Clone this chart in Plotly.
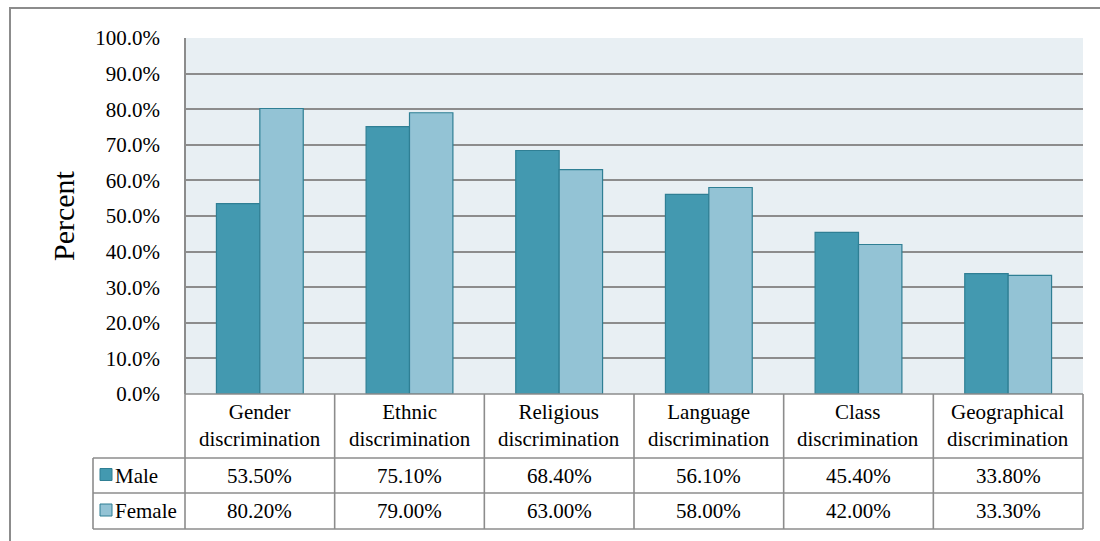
import plotly.graph_objects as go

categories = ["Gender<br>discrimination", "Ethnic<br>discrimination", "Religious<br>discrimination",
              "Language<br>discrimination", "Class<br>discrimination", "Geographical<br>discrimination"]
male = [53.5, 75.1, 68.4, 56.1, 45.4, 33.8]
female = [80.2, 79.0, 63.0, 58.0, 42.0, 33.3]
series_names = ["Male", "Female"]
y_ticks = [0, 10, 20, 30, 40, 50, 60, 70, 80, 90, 100]

W, H = 1100, 541
PX0, PX1 = 185, 1083
PY0, PY1 = 38, 394
TBL_HDR_BOT = 458
ROW_BOT = [493, 529]
TBL_LEFT = 93

MALE_C = "#4399B0"
FEMALE_C = "#93C3D5"
EDGE_C = "#2F7F94"
GRID_C = "#8C8C8C"
FONT = "Liberation Serif, Times New Roman, serif"

def px(x):
    return x / W

def py(y):
    return 1 - y / H

fig = go.Figure()
xs = list(range(len(categories)))
fig.add_trace(go.Bar(x=xs, y=male, name=series_names[0], marker=dict(color=MALE_C, line=dict(color=EDGE_C, width=1.2))))
fig.add_trace(go.Bar(x=xs, y=female, name=series_names[1], marker=dict(color=FEMALE_C, line=dict(color=EDGE_C, width=1.2))))

shapes = []
annotations = []

# outer frame
shapes.append(dict(type="rect", xref="paper", yref="paper", x0=px(10), x1=px(1110), y0=py(560), y1=py(8),
                   line=dict(color="#8C8C8C", width=2), fillcolor="rgba(0,0,0,0)", layer="below"))
# plot area left border
shapes.append(dict(type="line", xref="paper", yref="paper", x0=px(PX0), x1=px(PX0), y0=py(PY1), y1=py(PY0),
                   line=dict(color=GRID_C, width=2)))

n = len(categories)
colw = (PX1 - PX0) / n
line_style = dict(color=GRID_C, width=1.6)
shapes.append(dict(type="line", xref="paper", yref="paper", x0=px(PX0), x1=px(PX1), y0=py(PY1), y1=py(PY1), line=line_style))
for yy in [TBL_HDR_BOT] + ROW_BOT:
    shapes.append(dict(type="line", xref="paper", yref="paper", x0=px(TBL_LEFT), x1=px(PX1), y0=py(yy), y1=py(yy), line=line_style))
shapes.append(dict(type="line", xref="paper", yref="paper", x0=px(TBL_LEFT), x1=px(TBL_LEFT), y0=py(TBL_HDR_BOT), y1=py(ROW_BOT[-1]), line=line_style))
for i in range(n + 1):
    xx = PX0 + i * colw
    shapes.append(dict(type="line", xref="paper", yref="paper", x0=px(xx), x1=px(xx), y0=py(PY1), y1=py(ROW_BOT[-1]), line=line_style))

font = dict(family=FONT, size=21, color="#000000")
for i, c in enumerate(categories):
    annotations.append(dict(xref="paper", yref="paper", x=px(PX0 + (i + 0.5) * colw), y=py((PY1 + TBL_HDR_BOT) / 2 - 0.5),
                            text=c, showarrow=False, font=font, xanchor="center", yanchor="middle"))
row_tops = [TBL_HDR_BOT, ROW_BOT[0]]
for r, (vals, name, colr) in enumerate([(male, series_names[0], MALE_C), (female, series_names[1], FEMALE_C)]):
    yc = (row_tops[r] + ROW_BOT[r]) / 2
    for i, v in enumerate(vals):
        annotations.append(dict(xref="paper", yref="paper", x=px(PX0 + (i + 0.5) * colw), y=py(yc),
                                text=f"{v:.2f}%", showarrow=False, font=font, xanchor="center", yanchor="middle"))
    shapes.append(dict(type="rect", xref="paper", yref="paper", x0=px(100), x1=px(112), y0=py(yc + 5), y1=py(yc - 7),
                       fillcolor=colr, line=dict(color=EDGE_C, width=1)))
    annotations.append(dict(xref="paper", yref="paper", x=px(113), y=py(yc), text=name, showarrow=False,
                            font=font, xanchor="left", yanchor="middle"))

annotations.append(dict(xref="paper", yref="paper", x=px(64), y=py((PY0 + PY1) / 2), text="Percent", showarrow=False,
                        textangle=-90, font=dict(family=FONT, size=30, color="#000000"), xanchor="center", yanchor="middle"))

fig.update_layout(
    width=W, height=H, autosize=False,
    margin=dict(l=0, r=0, t=0, b=0, pad=0),
    paper_bgcolor="#FFFFFF",
    plot_bgcolor="#E8EFF3",
    barmode="group", bargap=0.42, bargroupgap=0,
    showlegend=False,
    shapes=shapes, annotations=annotations,
    font=dict(family=FONT, size=21, color="#000000"),
    xaxis=dict(domain=[px(PX0), px(PX1)], range=[-0.5, n - 0.5], showticklabels=False, showgrid=False,
               zeroline=False, showline=False, fixedrange=True, automargin=False),
    yaxis=dict(domain=[py(PY1), py(PY0)], range=[0, 100], tickvals=y_ticks,
               ticktext=[f"{t:.1f}%" for t in y_ticks], showgrid=True, gridcolor=GRID_C, gridwidth=1.6,
               zeroline=False, showline=False, ticks="", ticklabelstandoff=24, automargin=False,
               tickfont=dict(family=FONT, size=21, color="#000000"), fixedrange=True),
)

fig.write_html("out.html")
